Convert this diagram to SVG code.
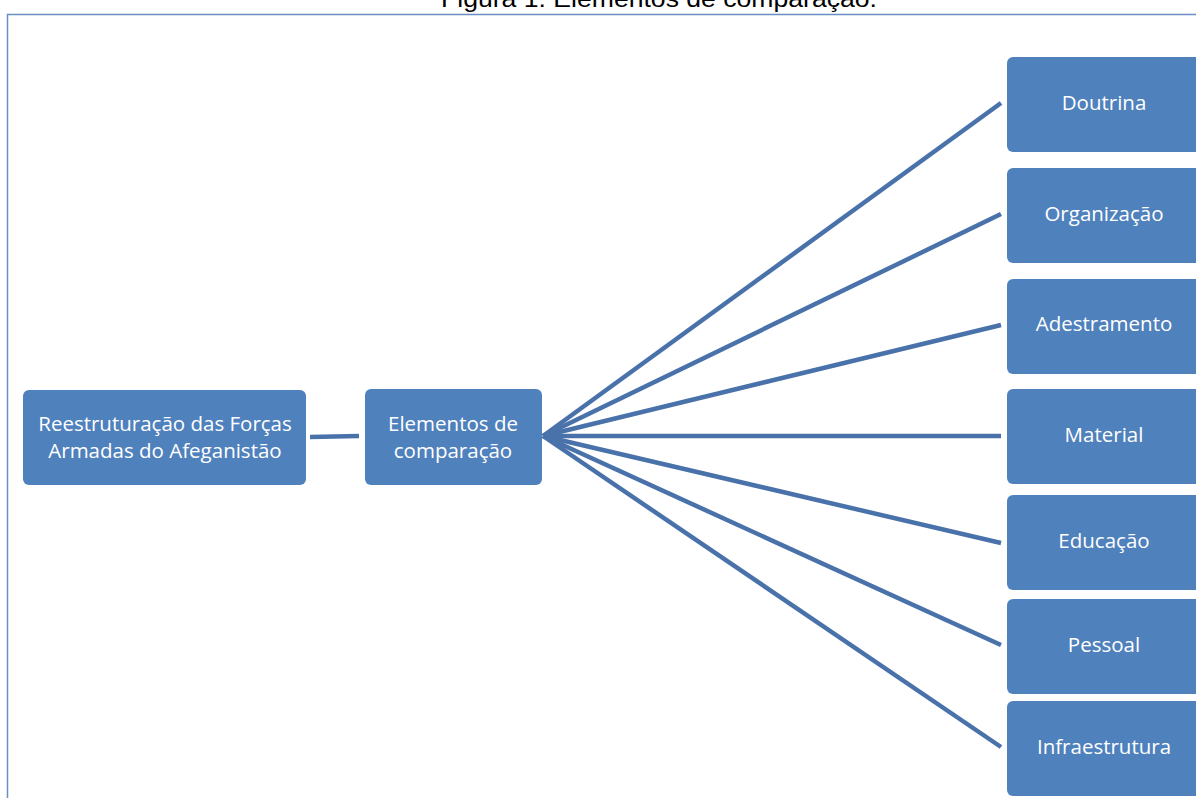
<svg xmlns="http://www.w3.org/2000/svg" width="1196" height="798" viewBox="0 0 1196 798">
<style>
.box{fill:#4f81bd;}
.lbl{fill:#fff;font-family:"Open Sans","Liberation Sans",sans-serif;font-size:20.5px;text-anchor:middle;}
.ln{stroke:#4a72aa;stroke-width:4.5;fill:none;stroke-linecap:butt;}
</style>
<rect width="1196" height="798" fill="#fff"/>
<text x="659" y="7" font-family="Liberation Sans, Arial, sans-serif" font-size="24" text-anchor="middle" textLength="436" lengthAdjust="spacingAndGlyphs" fill="#000">Figura 1: Elementos de comparação.</text>
<path d="M7.5 798 V14.5 H1196" stroke="#6a8fc4" stroke-width="1.5" fill="none"/>
<g id="connectors">
<line class="ln" x1="310" y1="437" x2="359" y2="436"/>
<line class="ln" x1="543" y1="436" x2="1001" y2="103"/>
<line class="ln" x1="543" y1="436" x2="1001" y2="214"/>
<line class="ln" x1="543" y1="436" x2="1001" y2="325"/>
<line class="ln" x1="543" y1="436" x2="1001" y2="436"/>
<line class="ln" x1="543" y1="436" x2="1001" y2="543"/>
<line class="ln" x1="543" y1="436" x2="1001" y2="645"/>
<line class="ln" x1="543" y1="436" x2="1001" y2="747"/>
</g>
<g id="n-reestruturacao"><rect class="box" x="23" y="390" width="283" height="95" rx="6"/><text class="lbl" x="165" y="431">Reestruturação das Forças</text><text class="lbl" x="165" y="458">Armadas do Afeganistão</text></g>
<g id="n-elementos"><rect class="box" x="365" y="389" width="177" height="96" rx="6"/><text class="lbl" x="453" y="431">Elementos de</text><text class="lbl" x="453" y="458">comparação</text></g>
<g id="n-doutrina"><rect class="box" x="1007" y="57" width="200" height="95" rx="6"/><text class="lbl" x="1104" y="110">Doutrina</text></g>
<g id="n-organizacao"><rect class="box" x="1007" y="168" width="200" height="95" rx="6"/><text class="lbl" x="1104" y="221">Organização</text></g>
<g id="n-adestramento"><rect class="box" x="1007" y="279" width="200" height="95" rx="6"/><text class="lbl" x="1104" y="331">Adestramento</text></g>
<g id="n-material"><rect class="box" x="1007" y="389" width="200" height="95" rx="6"/><text class="lbl" x="1104" y="442">Material</text></g>
<g id="n-educacao"><rect class="box" x="1007" y="495" width="200" height="95" rx="6"/><text class="lbl" x="1104" y="548">Educação</text></g>
<g id="n-pessoal"><rect class="box" x="1007" y="599" width="200" height="95" rx="6"/><text class="lbl" x="1104" y="652">Pessoal</text></g>
<g id="n-infraestrutura"><rect class="box" x="1007" y="701" width="200" height="95" rx="6"/><text class="lbl" x="1104" y="754">Infraestrutura</text></g>
</svg>
